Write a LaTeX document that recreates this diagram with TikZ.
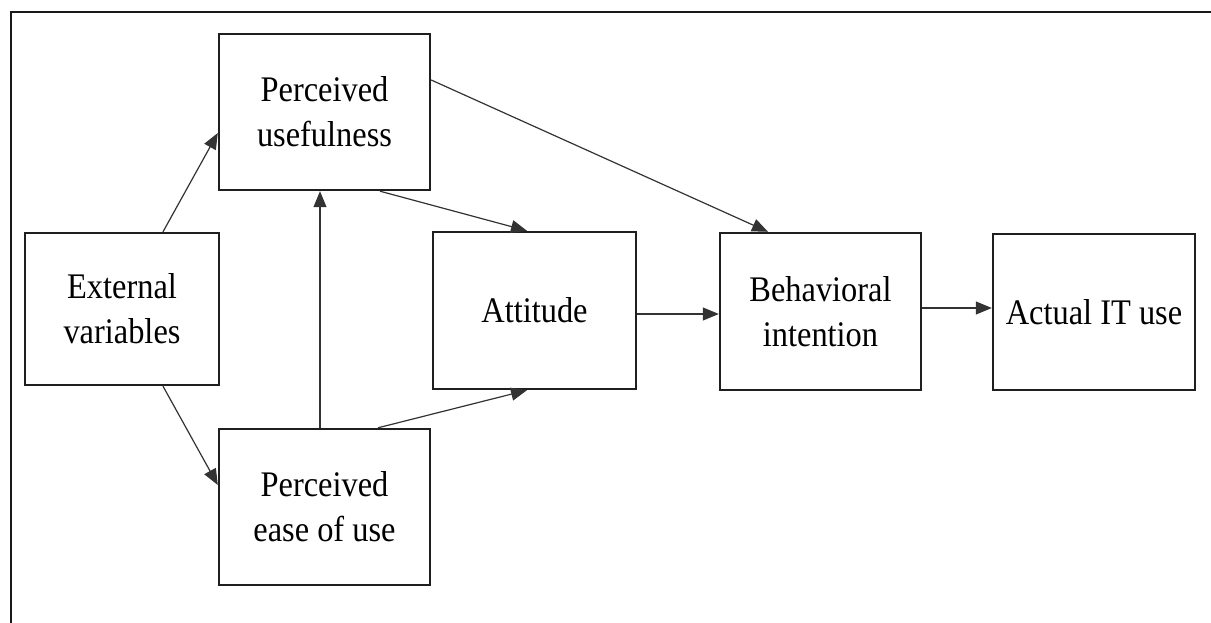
\documentclass[tikz,border=0pt]{standalone}
\usepackage{fontspec}
\setmainfont{Liberation Serif}[FakeStretch=0.9]
\usetikzlibrary{arrows.meta,calc}
\begin{document}
\begin{tikzpicture}[x=1pt,y=-1pt,
  box/.style={draw=black!88,line width=2.4pt,rectangle,inner sep=0pt,align=center,
    font=\fontsize{36}{45}\selectfont,text=black},
  conn/.style={draw=black!80,line width=1.2pt,-{Triangle[length=16pt,width=13pt]}}]
\useasboundingbox (0,0) rectangle (1211,623);
\fill[white] (0,0) rectangle (1211,623);
\draw[line width=2.4pt,black!90] (1211,12) -- (11,12) -- (11,623);
\node[box,minimum width=211pt,minimum height=156pt] (PU) at (324.5,112) {Perceived\\usefulness};
\node[box,minimum width=194pt,minimum height=152pt] (EV) at (122,309) {External\\variables};
\node[box,minimum width=211pt,minimum height=156pt] (PEOU) at (324.5,507) {Perceived\\ease of use};
\node[box,minimum width=203pt,minimum height=157pt] (AT) at (534.5,310.5) {Attitude};
\node[box,minimum width=201pt,minimum height=157pt] (BI) at (820.5,311.5) {Behavioral\\intention};
\node[box,minimum width=202pt,minimum height=156pt] (AU) at (1094,312) {Actual IT use};
\draw[conn] ([xshift=41pt]EV.north) -- ([yshift=-21pt]PU.west);
\draw[conn] ([xshift=41pt]EV.south) -- ([yshift=22pt]PEOU.west);
\draw[conn] ([xshift=-4.5pt]PEOU.north) -- ([xshift=-4.5pt]PU.south);
\draw[conn] ([xshift=55.5pt]PU.south) -- ([xshift=-7.5pt]AT.north);
\draw[conn] ([xshift=53.5pt]PEOU.north) -- ([xshift=-7.5pt]AT.south);
\draw[conn] ([yshift=32pt]PU.east) -- ([xshift=-52.5pt]BI.north);
\draw[conn] ([yshift=-3.5pt]AT.east) -- ([yshift=-3.5pt]AT.east -| BI.west);
\draw[conn] ([yshift=3.5pt]BI.east) -- ([yshift=3.5pt]BI.east -| AU.west);
\end{tikzpicture}
\end{document}
